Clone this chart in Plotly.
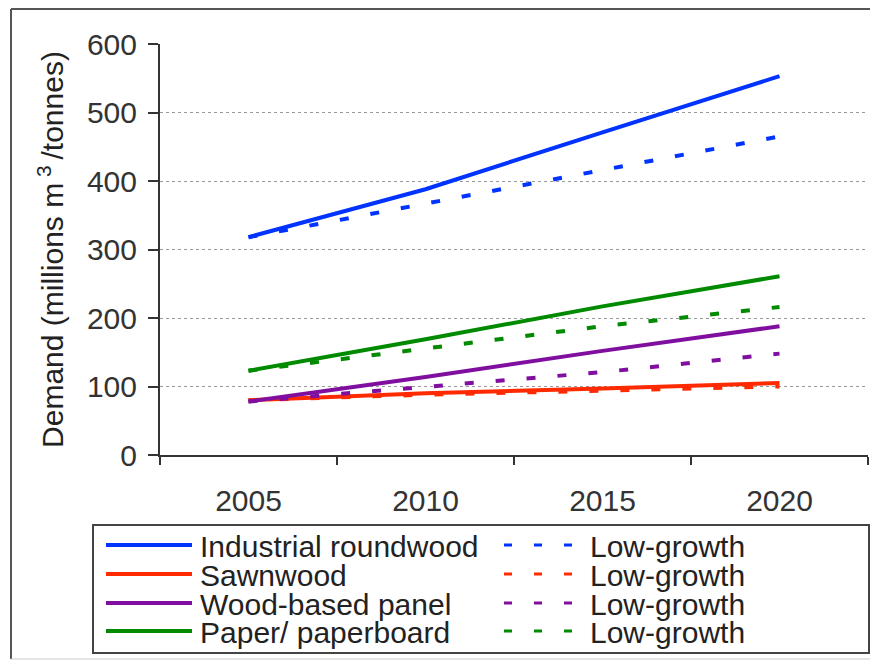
import plotly.graph_objects as go

years = ["2005", "2010", "2015", "2020"]

series_names = ["Industrial roundwood", "Sawnwood", "Wood-based panel", "Paper/ paperboard"]
low_label = "Low-growth"

industrial = [318, 388, 471, 553]
industrial_low = [318, 367, 416, 465]
sawnwood = [80, 90, 97, 105]
sawnwood_low = [80, 88, 94, 100]
panel = [78, 114, 152, 188]
panel_low = [78, 99, 121, 148]
paper = [123, 169, 217, 261]
paper_low = [123, 156, 188, 216]

colors = ["#0033ff", "#ff2a00", "#800fa0", "#008a00"]

main = [industrial, sawnwood, panel, paper]
low = [industrial_low, sawnwood_low, panel_low, paper_low]

FONT = "Liberation Sans, Arial, sans-serif"

# page body adds an 8px margin, so the figure is a bit smaller than the window
OFF = 8
W, H = 878 - OFF, 661 - OFF

# plot area in window pixels: x 160..868, y 44..455
L, R, T, B = 160, 868, 44, 455


def px(x):
    return (x - L) / (R - L)


def py(y):
    return (B - y) / (B - T)


fig = go.Figure()

for name, vals, lvals, c in zip(series_names, main, low, colors):
    fig.add_trace(go.Scatter(x=years, y=lvals, mode="lines", name=low_label,
                             line=dict(color=c, width=4, dash="9px,22px"),
                             showlegend=False))
    fig.add_trace(go.Scatter(x=years, y=vals, mode="lines", name=name,
                             line=dict(color=c, width=4),
                             showlegend=False))

shapes = []
annotations = []

# outer frame
shapes.append(dict(type="line", xref="paper", yref="paper", x0=px(11), x1=px(890), y0=py(9), y1=py(9),
                   line=dict(color="#555", width=2)))
shapes.append(dict(type="line", xref="paper", yref="paper", x0=px(11), x1=px(11), y0=py(9), y1=py(659),
                   line=dict(color="#555", width=2)))
shapes.append(dict(type="line", xref="paper", yref="paper", x0=px(11), x1=px(890), y0=py(659), y1=py(659),
                   line=dict(color="#ccc", width=1)))

# legend box
shapes.append(dict(type="rect", xref="paper", yref="paper", x0=px(93), x1=px(869), y0=py(525), y1=py(653),
                   line=dict(color="#444", width=2), fillcolor="white"))

rows = [545, 574, 603, 631]
for name, c, r in zip(series_names, colors, rows):
    shapes.append(dict(type="line", xref="paper", yref="paper", x0=px(106), x1=px(192), y0=py(r), y1=py(r),
                       line=dict(color=c, width=4)))
    shapes.append(dict(type="line", xref="paper", yref="paper", x0=px(504), x1=px(572), y0=py(r), y1=py(r),
                       line=dict(color=c, width=3, dash="8px,22px")))
    annotations.append(dict(xref="paper", yref="paper", x=px(198), y=py(r + 1), text=name, showarrow=False,
                            xanchor="left", yanchor="middle", font=dict(size=30, color="#222", family=FONT)))
    annotations.append(dict(xref="paper", yref="paper", x=px(588), y=py(r + 1), text=low_label, showarrow=False,
                            xanchor="left", yanchor="middle", font=dict(size=30, color="#222", family=FONT)))

fig.update_layout(
    width=W, height=H,
    margin=dict(l=L - OFF, r=W - (R - OFF), t=T - OFF, b=H - (B - OFF)),
    paper_bgcolor="white", plot_bgcolor="white",
    font=dict(family=FONT, size=30, color="#333"),
    shapes=shapes, annotations=annotations,
    showlegend=False,
)

fig.update_xaxes(
    type="category", categoryorder="array", categoryarray=years,
    range=[-0.5, 3.5], tickson="boundaries",
    showline=True, linecolor="#333", linewidth=2,
    ticks="outside", ticklen=8, tickcolor="#333", tickwidth=2,
    ticklabelstandoff=18,
    showgrid=False, zeroline=False,
)

fig.update_yaxes(
    range=[0, 600], dtick=100,
    showline=True, linecolor="#333", linewidth=2,
    ticks="outside", ticklen=10, tickcolor="#333", tickwidth=2,
    ticklabelstandoff=5,
    showgrid=True, gridcolor="#999", griddash="dot", gridwidth=1,
    zeroline=False,
    title=dict(text="Demand (millions m<sup> 3 </sup>/tonnes)", standoff=14,
               font=dict(size=30, color="#222")),
    automargin=False,
)

fig.write_html("out.html")
